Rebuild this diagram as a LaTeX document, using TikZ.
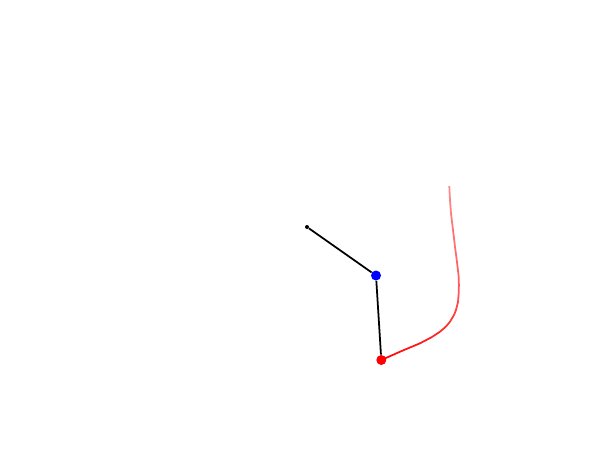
\documentclass[tikz,border=0pt]{standalone}
\usepackage{xcolor}
\definecolor{bobblue}{HTML}{0000FF}
\definecolor{bobred}{HTML}{FF0000}
\usepackage{tikz}
\usetikzlibrary{positioning}
\tikzset{
    pend_pivot/.style={circle, fill=black, inner sep=0pt, minimum size=0.08cm},
    pend_bob1/.style={circle, fill=bobblue, inner sep=0pt, minimum size=0.2cm},
    pend_bob2/.style={circle, fill=bobred, inner sep=0pt, minimum size=0.2cm},
    pend_rod/.style={draw=black, line width=1pt},
    pend_trail/.style={draw=bobred, line width=1pt, line cap=butt}
}

\begin{document}
\begin{tikzpicture}[x=0.02cm, y=-0.02cm]
\useasboundingbox (0,0) rectangle (599,450);

% trail of the lower bob, fading with age
\foreach \x/\y [remember=\x as \px (initially 381.3), remember=\y as \py (initially 360), count=\i] in
    {392/355.3, 400/351.7, 420/343.3, 432/337, 440/331.7, 446/326.5, 450/321.7, 454/315, 456/310,
     458/302, 458.7/293.3, 458.9/285, 458.7/276.7, 457/262, 455/246.7, 453/230, 451/213.3, 450/200, 449.3/186}
    \draw[pend_trail, draw opacity={1-0.028*\i}] (\px,\py) -- (\x,\y);

\node[pend_pivot] (pivot) at (307,227) {};
\node[pend_bob1] (bob1) at (376,275.5) {};
\node[pend_bob2] (bob2) at (381.3,360) {};

\draw[pend_rod] (pivot) -- (bob1);
\draw[pend_rod] (bob1) -- (bob2);
\end{tikzpicture}
\end{document}
